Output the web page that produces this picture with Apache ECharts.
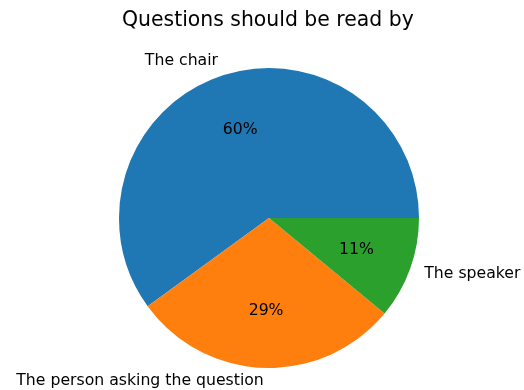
<!DOCTYPE html>
<html>
<head>
<meta charset="utf-8">
<script src="https://cdn.jsdelivr.net/npm/echarts@6/dist/echarts.min.js"></script>
<style>
  html, body { margin: 0; padding: 0; background: #fff; }
  #chart { width: 524px; height: 390px; }
</style>
</head>
<body>
<div id="chart"></div>
<script>
const categories = ['The chair', 'The person asking the question', 'The speaker']
const shares = [60, 29, 11]
const colors = ['#1f77b4', '#ff7f0e', '#2ca02c']

const chart = echarts.init(document.getElementById('chart'))

const font = 'DejaVu Sans'
const center = [269, 218]

const option = {
  animation: false,
  title: {
    text: 'Questions should be read by',
    left: 117,
    top: 6,
    textStyle: { fontFamily: font, fontSize: 20.4, fontWeight: 'normal', color: '#000' },
  },
  series: [
    {
      // slices with the category names outside
      type: 'pie',
      center: center,
      radius: 150,
      startAngle: 0,
      clockwise: false,
      silent: true,
      data: categories.map((name, i) => ({
        name: name,
        value: shares[i],
        itemStyle: { color: colors[i] },
      })),
      label: {
        show: true,
        position: 'outside',
        formatter: '{b}',
        fontFamily: font,
        fontSize: 15.7,
        color: '#000',
        distanceToLabelLine: 0,
        overflow: 'none',
        edgeDistance: 0,
      },
      labelLine: { show: false, length: 15, length2: 0 },
    },
    {
      // invisible copy, only to place the percentages at 0.6 r
      type: 'pie',
      center: center,
      radius: 180,
      startAngle: 0,
      clockwise: false,
      silent: true,
      z: 3,
      data: categories.map((name, i) => ({
        name: name,
        value: shares[i],
        itemStyle: { color: 'rgba(0,0,0,0)' },
      })),
      label: {
        show: true,
        position: 'inside',
        formatter: (p) => Math.round(p.percent) + '%',
        fontFamily: font,
        fontSize: 15.7,
        color: '#000',
      },
      labelLine: { show: false },
    },
  ],
}

chart.setOption(option)
</script>
</body>
</html>
